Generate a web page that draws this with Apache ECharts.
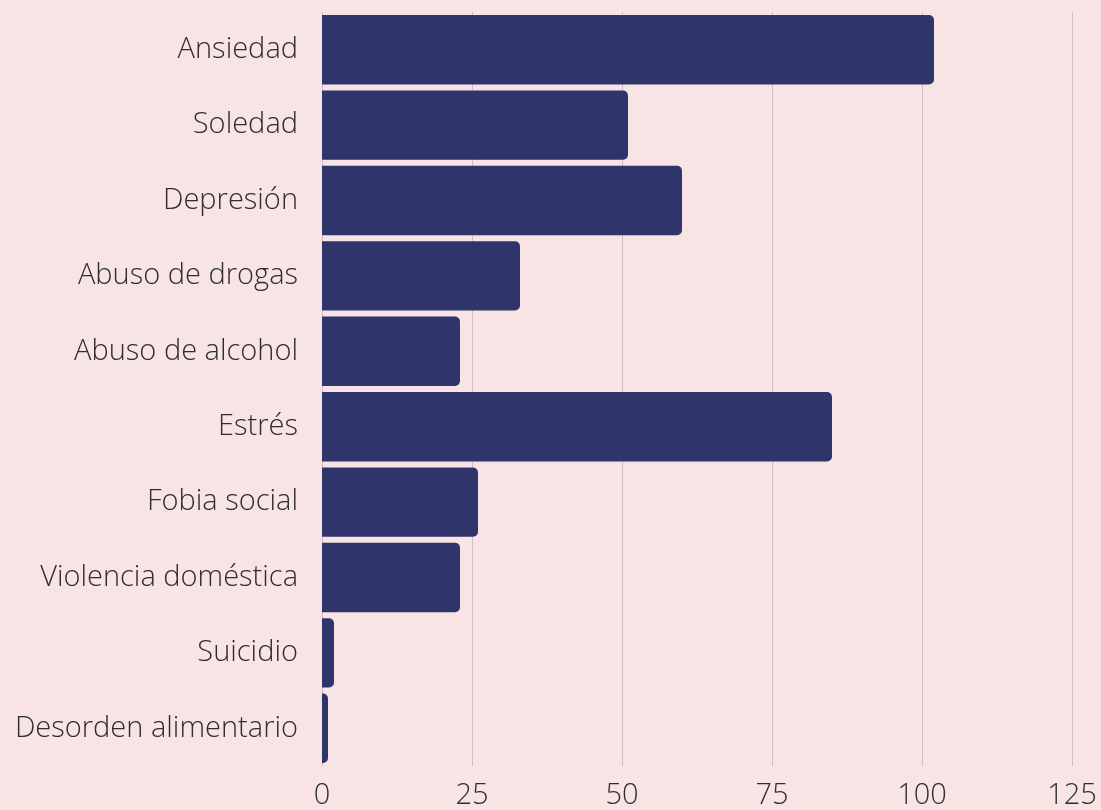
<!DOCTYPE html>
<html><head><meta charset="utf-8">
<script src="https://cdn.jsdelivr.net/npm/echarts@6/dist/echarts.min.js"></script>
<style>html,body{margin:0;padding:0;background:#f9e4e5;}#c{width:1101px;height:810px;}</style>
</head><body><div id="c"></div>
<script>
const categories = ["Ansiedad","Soledad","Depresión","Abuso de drogas","Abuso de alcohol","Estrés","Fobia social","Violencia doméstica","Suicidio","Desorden alimentario"];
const values = [102, 51, 60, 33, 23, 85, 26, 23, 2, 1];
const xTicks = [0, 25, 50, 75, 100, 125];

const chart = echarts.init(document.getElementById('c'));
chart.setOption({
  backgroundColor: '#f9e4e5',
  animation: false,
  grid: {left: 322, right: 29, top: 12, bottom: 42, containLabel: false},
  xAxis: {
    type: 'value', min: xTicks[0], max: xTicks[xTicks.length-1], interval: 25,
    axisLine: {show: false}, axisTick: {show: false},
    splitLine: {show: true, lineStyle: {color: '#cdbfc1', width: 1}},
    axisLabel: {color: '#2e2e2e', fontFamily: 'Open Sans', fontWeight: 300, fontSize: 29, margin: 15}
  },
  yAxis: {
    type: 'category', data: categories, inverse: true,
    axisLine: {show: false}, axisTick: {show: false},
    axisLabel: {color: '#2e2e2e', fontFamily: 'Open Sans', fontWeight: 300, fontSize: 29, margin: 24, padding: [4, 0, 0, 0]}
  },
  series: [{
    type: 'bar', data: values, barCategoryGap: '8%',
    itemStyle: {color: '#2f346b', borderRadius: [0, 5, 5, 0]}
  }]
});
</script></body></html>
